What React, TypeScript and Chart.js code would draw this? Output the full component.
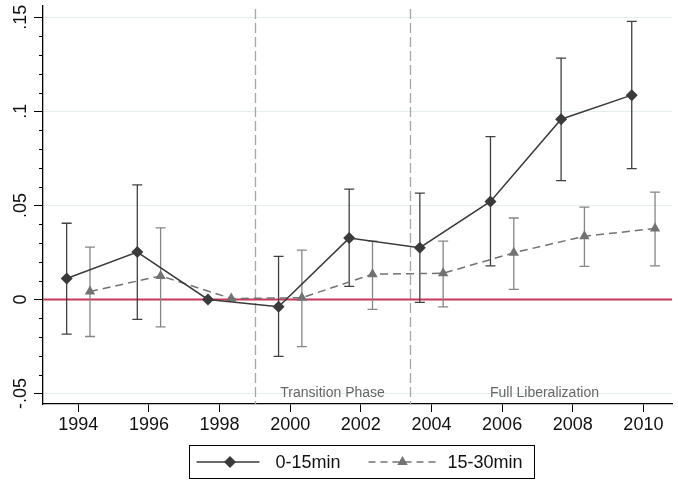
import React, { useEffect, useRef } from "react";
import { Chart, registerables } from "chart.js";

Chart.register(...registerables);

// ---- data ----
const years = [1994, 1996, 1998, 2000, 2002, 2004, 2006, 2008, 2010];
const est15 = [0.0111, 0.0252, 0, -0.0039, 0.0326, 0.0275, 0.0521, 0.0958, 0.1086];
const lo15 = [-0.0185, -0.0106, 0, -0.0303, 0.0069, -0.0016, 0.0178, 0.0632, 0.0695];
const hi15 = [0.0405, 0.0609, 0, 0.0229, 0.0586, 0.0565, 0.0866, 0.1283, 0.1478];
const est30 = [0.0042, 0.0125, 0.0005, 0.0009, 0.0134, 0.0139, 0.0248, 0.0336, 0.0377];
const lo30 = [-0.0197, -0.0146, 0.0005, -0.0251, -0.0053, -0.004, 0.0053, 0.0176, 0.0178];
const hi30 = [0.0278, 0.038, 0.0005, 0.0262, 0.031, 0.031, 0.0433, 0.0491, 0.057];
const seriesNames = ["0-15min", "15-30min"];
const xTicks = [1994, 1996, 1998, 2000, 2002, 2004, 2006, 2008, 2010];
const yMajor = [-0.05, 0, 0.05, 0.1, 0.15];
const yMajorLabels = ["-.05", "0", ".05", ".1", ".15"];
const phaseLines = [1999.0, 2003.4];
const phaseLabels = [
  { text: "Transition Phase", from: 1999.0, to: 2003.4 },
  { text: "Full Liberalization", from: 2003.4, to: 2011.0 },
];

const OFF = 0.33;
const FONT = "'Liberation Sans', Arial, Helvetica, sans-serif";
const C1 = "#3a3a3a";
const C2 = "#727272";

const overlay = {
  id: "overlay",
  beforeDatasetsDraw(chart: any) {
    const { ctx, chartArea: a, scales } = chart;
    const x = scales.x, y = scales.y;
    ctx.save();
    // phase dashed lines
    ctx.strokeStyle = "#a6a6a6";
    ctx.lineWidth = 1.3;
    ctx.setLineDash([10, 4]);
    phaseLines.forEach((v) => {
      const px = Math.round(x.getPixelForValue(v)) + 0.5;
      ctx.beginPath();
      ctx.moveTo(px, a.top + 3);
      ctx.lineTo(px, a.bottom);
      ctx.stroke();
    });
    ctx.setLineDash([]);
    // zero line
    const y0 = y.getPixelForValue(0);
    ctx.strokeStyle = "#c8385b";
    ctx.lineWidth = 2;
    ctx.beginPath();
    ctx.moveTo(a.left, y0);
    ctx.lineTo(a.right, y0);
    ctx.stroke();
    // phase labels
    ctx.fillStyle = "#666";
    ctx.font = `14px ${FONT}`;
    ctx.textAlign = "center";
    ctx.textBaseline = "middle";
    phaseLabels.forEach((p) => {
      const cx = (x.getPixelForValue(p.from) + x.getPixelForValue(p.to)) / 2;
      ctx.fillText(p.text, cx, y.getPixelForValue(-0.05));
    });
    // error bars
    const bars = [
      { lo: lo15, hi: hi15, off: -OFF, color: "#404040" },
      { lo: lo30, hi: hi30, off: OFF, color: "#858585" },
    ];
    bars.forEach((b) => {
      ctx.strokeStyle = b.color;
      ctx.lineWidth = 1.3;
      years.forEach((yr, i) => {
        if (b.lo[i] === b.hi[i]) return;
        const px = x.getPixelForValue(yr + b.off);
        const pl = y.getPixelForValue(b.lo[i]);
        const ph = y.getPixelForValue(b.hi[i]);
        ctx.beginPath();
        ctx.moveTo(px, pl);
        ctx.lineTo(px, ph);
        ctx.moveTo(px - 5, pl);
        ctx.lineTo(px + 5, pl);
        ctx.moveTo(px - 5, ph);
        ctx.lineTo(px + 5, ph);
        ctx.stroke();
      });
    });
    ctx.restore();
  },
  afterDraw(chart: any) {
    const { ctx, chartArea: a, scales } = chart;
    const y = scales.y;
    ctx.save();
    // y ticks (major + minor)
    ctx.strokeStyle = "#000";
    ctx.lineWidth = 1;
    for (let k = -5; k <= 15; k++) {
      const v = k / 100;
      const py = Math.round(y.getPixelForValue(v)) + 0.5;
      const len = k % 5 === 0 ? 9 : 4;
      ctx.beginPath();
      ctx.moveTo(a.left - len, py);
      ctx.lineTo(a.left, py);
      ctx.stroke();
    }
    // y tick labels rotated
    ctx.fillStyle = "#111";
    ctx.font = `18px ${FONT}`;
    ctx.textAlign = "center";
    ctx.textBaseline = "middle";
    yMajor.forEach((v, i) => {
      const py = y.getPixelForValue(v);
      ctx.save();
      ctx.translate(21, py);
      ctx.rotate(-Math.PI / 2);
      ctx.fillText(yMajorLabels[i], 0, 0);
      ctx.restore();
    });
    // legend
    const cx = (a.left + a.right) / 2 + 3.5;
    const bw = 345, bh = 33;
    const bx = Math.round(cx - bw / 2) + 0.5;
    const by = 445.5;
    ctx.strokeStyle = "#000";
    ctx.lineWidth = 1;
    ctx.strokeRect(bx, by, bw, bh);
    const ly = by + bh / 2;
    // entry 1
    ctx.strokeStyle = C1;
    ctx.lineWidth = 1.5;
    ctx.beginPath();
    ctx.moveTo(bx + 7, ly);
    ctx.lineTo(bx + 70, ly);
    ctx.stroke();
    ctx.fillStyle = C1;
    ctx.beginPath();
    const dx = bx + 40.5;
    ctx.moveTo(dx, ly - 6);
    ctx.lineTo(dx + 6, ly);
    ctx.lineTo(dx, ly + 6);
    ctx.lineTo(dx - 6, ly);
    ctx.closePath();
    ctx.fill();
    ctx.fillStyle = "#111";
    ctx.font = `18px ${FONT}`;
    ctx.textAlign = "left";
    ctx.textBaseline = "middle";
    ctx.fillText(seriesNames[0], bx + 86, ly + 1);
    // entry 2
    ctx.strokeStyle = C2;
    ctx.lineWidth = 1.5;
    ctx.setLineDash([7, 5]);
    ctx.beginPath();
    ctx.moveTo(bx + 179, ly);
    ctx.lineTo(bx + 247, ly);
    ctx.stroke();
    ctx.setLineDash([]);
    ctx.fillStyle = C2;
    const tx = bx + 213;
    const r = 6;
    ctx.beginPath();
    ctx.moveTo(tx, ly - r);
    ctx.lineTo(tx + r * Math.sin((2 * Math.PI) / 3), ly - r * Math.cos((2 * Math.PI) / 3));
    ctx.lineTo(tx + r * Math.sin((4 * Math.PI) / 3), ly - r * Math.cos((4 * Math.PI) / 3));
    ctx.closePath();
    ctx.fill();
    ctx.fillStyle = "#111";
    ctx.fillText(seriesNames[1], bx + 258, ly + 1);
    ctx.restore();
  },
};

export default function App() {
  const ref = useRef<HTMLCanvasElement>(null);
  useEffect(() => {
    if (!ref.current) return;
    const chart = new Chart(ref.current, {
      type: "line",
      data: {
        datasets: [
          {
            label: seriesNames[0],
            data: years.map((yr, i) => ({ x: yr - OFF, y: est15[i] })),
            borderColor: C1,
            backgroundColor: C1,
            borderWidth: 1.5,
            pointStyle: "rectRot",
            pointRadius: 6,
            pointBorderWidth: 0,
            pointBackgroundColor: C1,
            tension: 0,
          },
          {
            label: seriesNames[1],
            data: years.map((yr, i) => ({ x: yr + OFF, y: est30[i] })),
            borderColor: C2,
            backgroundColor: C2,
            borderWidth: 1.5,
            borderDash: [8, 5],
            pointStyle: "triangle",
            pointRadius: 6,
            pointBorderWidth: 0,
            pointBackgroundColor: C2,
            tension: 0,
          },
        ],
      },
      options: {
        responsive: false,
        animation: false,
        layout: { padding: { top: 3, right: 0, bottom: 37, left: 0 } },
        plugins: { legend: { display: false }, tooltip: { enabled: false } },
        scales: {
          x: {
            type: "linear",
            min: 1993.0,
            max: 2010.81,
            afterBuildTicks: (s: any) => {
              s.ticks = xTicks.map((v) => ({ value: v }));
            },
            afterFit: (s: any) => {
              s.height = 40;
            },
            grid: { drawOnChartArea: false, tickLength: 8, tickColor: "#000", tickWidth: 1 },
            border: { color: "#000", width: 1.3 },
            ticks: {
              callback: (v: any) => String(v),
              font: { family: FONT, size: 18 },
              color: "#111",
              padding: 2,
              maxRotation: 0,
              autoSkip: false,
            },
          },
          y: {
            type: "linear",
            min: -0.0556,
            max: 0.156,
            afterBuildTicks: (s: any) => {
              s.ticks = yMajor.map((v) => ({ value: v }));
            },
            afterFit: (s: any) => {
              s.width = 43;
            },
            grid: { color: "#e4edef", lineWidth: 1, drawTicks: false },
            border: { color: "#000", width: 1.3 },
            ticks: { display: false },
          },
        },
      },
      plugins: [overlay],
    });
    return () => chart.destroy();
  }, []);
  return (
    <div style={{ position: "fixed", left: 0, top: 0, width: 678, height: 481, background: "#fff" }}>
      <canvas ref={ref} width={678} height={481} style={{ display: "block" }} />
    </div>
  );
}
